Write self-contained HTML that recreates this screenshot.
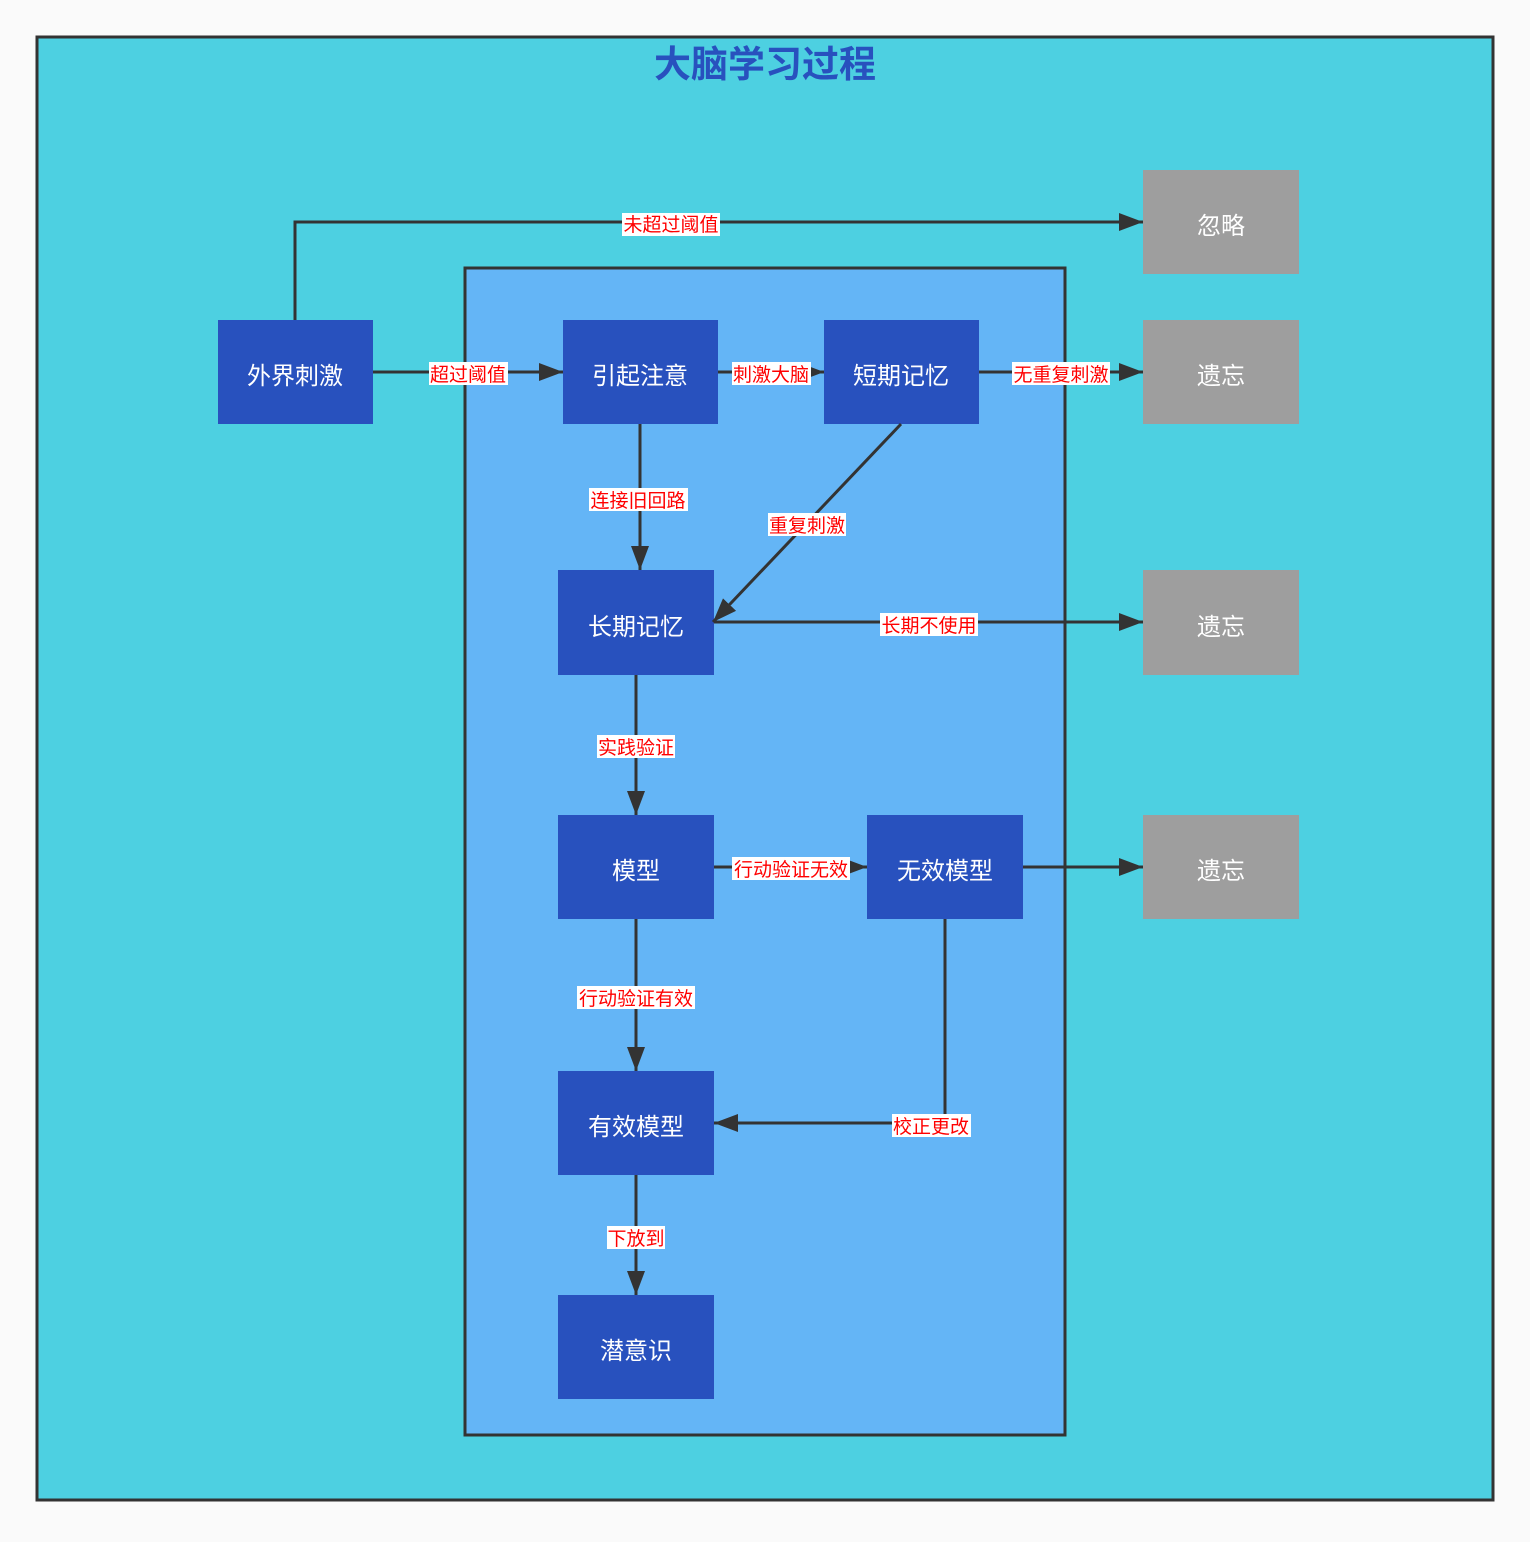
<!DOCTYPE html>
<html><head><meta charset="utf-8"><style>
body{margin:0;background:#fafafa;}
svg text{font-family:"Liberation Sans","Noto Sans CJK SC",sans-serif;}
.n{fill:#fff;font-size:24px;text-anchor:middle;}
.l{fill:#f00;font-size:19px;text-anchor:middle;}
</style></head><body>
<svg width="1530" height="1537" xmlns="http://www.w3.org/2000/svg">
<defs><marker id="a" markerUnits="userSpaceOnUse" markerWidth="26" markerHeight="20" refX="24" refY="9" orient="auto"><path d="M0,0 L24,9 L0,18 z" fill="#333"/></marker></defs>
<rect x="37" y="37" width="1456" height="1463" fill="#4dd0e1" stroke="#333" stroke-width="3"/>
<text x="765" y="77" text-anchor="middle" font-size="37" font-weight="bold" fill="#2851be">大脑学习过程</text>
<rect x="465" y="268" width="600" height="1167" fill="#64b5f6" stroke="#333" stroke-width="3"/>
<g fill="#2851be">
<rect x="218" y="320" width="155" height="104"/>
<rect x="563" y="320" width="155" height="104"/>
<rect x="824" y="320" width="155" height="104"/>
<rect x="558" y="570" width="156" height="105"/>
<rect x="558" y="815" width="156" height="104"/>
<rect x="867" y="815" width="156" height="104"/>
<rect x="558" y="1071" width="156" height="104"/>
<rect x="558" y="1295" width="156" height="104"/>
</g>
<g fill="#9e9e9e">
<rect x="1143" y="170" width="156" height="104"/>
<rect x="1143" y="320" width="156" height="104"/>
<rect x="1143" y="570" width="156" height="105"/>
<rect x="1143" y="815" width="156" height="104"/>
</g>
<g stroke="#333" stroke-width="3" fill="none" marker-end="url(#a)">
<path d="M295,320 V222 H1143"/>
<path d="M373,372 H563"/>
<path d="M718,372 H824"/>
<path d="M979,372 H1143"/>
<path d="M640,424 V570"/>
<path d="M901,424 L713,622"/>
<path d="M714,622 H1143"/>
<path d="M636,675 V815"/>
<path d="M714,867 H867"/>
<path d="M1023,867 H1143"/>
<path d="M636,919 V1071"/>
<path d="M945,919 V1123 H714"/>
<path d="M636,1175 V1295"/>
</g>
<g fill="#fff">
<rect x="622" y="213" width="98" height="23"/>
<rect x="429" y="362" width="79" height="23"/>
<rect x="732" y="362" width="79" height="23"/>
<rect x="1012" y="362" width="98" height="23"/>
<rect x="589" y="488" width="99" height="23"/>
<rect x="768" y="513" width="78" height="23"/>
<rect x="880" y="613" width="98" height="23"/>
<rect x="597" y="735" width="78" height="23"/>
<rect x="732" y="857" width="118" height="23"/>
<rect x="577" y="986" width="118" height="23"/>
<rect x="892" y="1114" width="79" height="23"/>
<rect x="607" y="1226" width="58" height="23"/>
</g>
<g class="l">
<text x="671" y="231">未超过阈值</text>
<text x="468" y="381">超过阈值</text>
<text x="771" y="381">刺激大脑</text>
<text x="1061" y="381">无重复刺激</text>
<text x="638" y="507">连接旧回路</text>
<text x="807" y="532">重复刺激</text>
<text x="929" y="632">长期不使用</text>
<text x="636" y="754">实践验证</text>
<text x="791" y="876">行动验证无效</text>
<text x="636" y="1005">行动验证有效</text>
<text x="931" y="1133">校正更改</text>
<text x="636" y="1245">下放到</text>
</g>
<g class="n">
<text x="295" y="384">外界刺激</text>
<text x="640" y="384">引起注意</text>
<text x="901" y="384">短期记忆</text>
<text x="636" y="635">长期记忆</text>
<text x="636" y="879">模型</text>
<text x="945" y="879">无效模型</text>
<text x="636" y="1135">有效模型</text>
<text x="636" y="1359">潜意识</text>
<text x="1221" y="234">忽略</text>
<text x="1221" y="384">遗忘</text>
<text x="1221" y="635">遗忘</text>
<text x="1221" y="879">遗忘</text>
</g>
</svg>
</body></html>
